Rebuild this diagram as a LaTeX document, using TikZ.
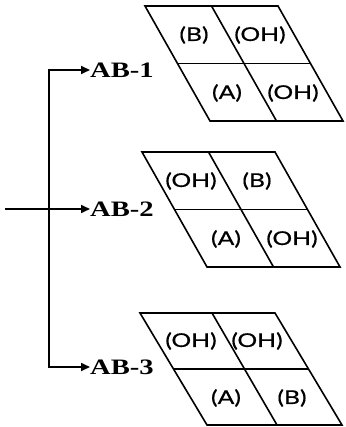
\documentclass[tikz,border=0pt]{standalone}
\usepackage{fontspec}
\setmainfont{Liberation Serif}
\newfontfamily\cellfont[FakeBold=0.5]{Lato}
\usetikzlibrary{arrows.meta}
\newcommand{\wide}[1]{\scalebox{1.3}[1]{#1}}
\begin{document}
\begin{tikzpicture}[x=1pt,y=-1pt,
  lbl/.style={font=\bfseries\fontsize{22}{22}\selectfont, anchor=west, inner sep=0pt},
  cell/.style={font=\cellfont\fontsize{19}{19}\selectfont, inner sep=0pt},
  conn/.style={line width=1.8pt, -{Triangle[length=9pt,width=8pt]}},
  plain/.style={line width=1.8pt},
  gridline/.style={line width=1.6pt, line join=miter}]
\useasboundingbox (0,0) rectangle (345,427);

% labels
\node[lbl] (ab1) at (90,70) {\wide{AB-1}};
\node[lbl] (ab2) at (90,209) {\wide{AB-2}};
\node[lbl] (ab3) at (90,367) {\wide{AB-3}};

\coordinate (top) at (49,70);
\coordinate (bot) at (49,367);
\coordinate (in) at (5,209);

\draw[plain] (bot) -- ([yshift=-0.9pt]top);
\draw[conn] ([xshift=-0.9pt]top) -- (ab1.west);
\draw[conn] ([xshift=-0.9pt]bot) -- (ab3.west);
\draw[conn] (in) -- (ab2.west);

% parallelogram 1
\begin{scope}[shift={(145,6)}]
  \draw[gridline] (0,0) -- (133,0) -- (198,115) -- (65,115) -- cycle;
  \draw[gridline] (32.5,57.5) -- (165.5,57.5);
  \draw[gridline] (66.5,0) -- (131.5,115);
  \node[cell] (p1a) at (49,29) {\wide{(B)}};
  \node[cell] (p1b) at (115,29) {\wide{(OH)}};
  \node[cell] (p1c) at (82,87) {\wide{(A)}};
  \node[cell] (p1d) at (148,87) {\wide{(OH)}};
\end{scope}

% parallelogram 2
\begin{scope}[shift={(142,152)}]
  \draw[gridline] (0,0) -- (133,0) -- (198,115) -- (65,115) -- cycle;
  \draw[gridline] (32.5,57.5) -- (165.5,57.5);
  \draw[gridline] (66.5,0) -- (131.5,115);
  \node[cell] (p2a) at (49,29) {\wide{(OH)}};
  \node[cell] (p2b) at (115,29) {\wide{(B)}};
  \node[cell] (p2c) at (84,87) {\wide{(A)}};
  \node[cell] (p2d) at (150,87) {\wide{(OH)}};
\end{scope}

% parallelogram 3
\begin{scope}[shift={(140,313)}]
  \draw[gridline] (0,0) -- (135,0) -- (202,112) -- (67,112) -- cycle;
  \draw[gridline] (33.5,56) -- (168.5,56);
  \draw[gridline] (72,0) -- (137,112);
  \node[cell] (p3a) at (51,28) {\wide{(OH)}};
  \node[cell] (p3b) at (117,28) {\wide{(OH)}};
  \node[cell] (p3c) at (86,85) {\wide{(A)}};
  \node[cell] (p3d) at (152,85) {\wide{(B)}};
\end{scope}
\end{tikzpicture}
\end{document}
